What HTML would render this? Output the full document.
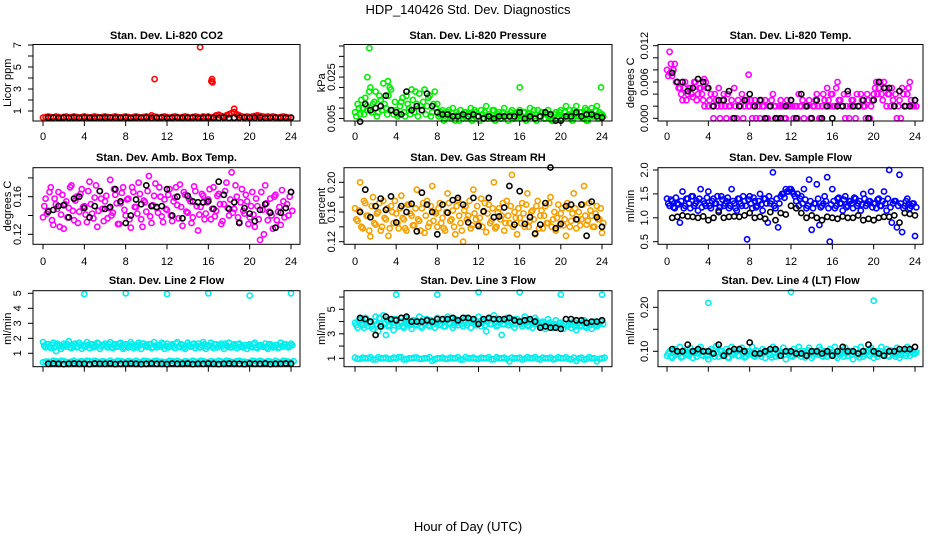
<!DOCTYPE html>
<html><head><meta charset="utf-8"><style>
html,body{margin:0;padding:0;background:#fff;}
svg{display:block;font-family:"Liberation Sans",Arial,sans-serif;}
</style></head><body>
<svg id="chart" width="936" height="540" viewBox="0 0 936 540" xmlns="http://www.w3.org/2000/svg">
<rect x="0" y="0" width="936" height="540" fill="#fff"/>
<text x="468" y="14" text-anchor="middle" font-size="13">HDP_140426  Std. Dev. Diagnostics</text>
<text x="468" y="531" text-anchor="middle" font-size="13">Hour of Day (UTC)</text>
</svg>
<script>
// ---------- data ----------
const xTicks = [0,4,8,12,16,20,24];
// CO2
const co2Color = [0.4,0.45,0.5,0.45,0.4,0.5,0.45,0.4,0.45,0.5,0.4,0.45,0.5,0.45,0.4,0.45,0.5,0.45,0.4,0.45,
0.5,0.45,0.4,0.45,0.5,0.45,0.4,0.45,0.5,0.45,0.4,0.45,0.5,0.45,0.4,0.45,0.5,0.45,0.4,0.45,
0.5,0.45,0.6,0.5,0.45,0.4,0.45,0.5,0.45,0.4,0.45,0.5,0.45,0.4,0.45,0.5,0.45,0.4,0.45,0.5,
0.45,0.4,0.5,0.45,0.5,0.4,0.45,0.6,0.65,0.55,0.5,0.6,0.7,0.8,0.9,0.7,0.6,0.5,0.45,0.5,
0.45,0.5,0.55,0.6,0.55,0.5,0.45,0.5,0.45,0.5,0.45,0.4,0.45,0.5,0.45,0.4,0.4];
const co2Black = [0.38,0.4,0.36,0.4,0.38,0.4,0.37,0.4,0.38,0.36,0.4,0.38,0.4,0.37,0.38,0.4,0.36,0.4,0.38,0.4,0.37,0.38,0.4,0.36,0.38,0.4,0.37,0.38,0.4,0.36,0.38,0.4,0.37,0.38,0.4,0.36,0.38,0.4,0.4,0.37,0.38,0.4,0.36,0.38,0.4,0.37,0.38,0.4];
const co2OutT = [10.8,15.2,16.3,16.35,16.4,18.5];
const co2OutV = [3.9,6.8,3.7,3.9,3.6,1.2];
// Pressure
const presColor = [0.008,0.012,0.007,0.01,0.015,0.009,0.02,0.012,0.018,0.008,0.014,0.022,0.01,0.016,0.019,0.007,
0.009,0.007,0.013,0.008,0.016,0.01,0.019,0.008,0.012,0.017,0.009,0.019,0.011,0.016,0.008,0.018,
0.012,0.007,0.009,0.005,0.008,0.006,0.01,0.004,0.007,0.009,0.005,0.008,0.006,0.01,0.005,0.008,
0.006,0.009,0.005,0.011,0.007,0.005,0.009,0.006,0.008,0.005,0.01,0.007,0.006,0.009,0.005,0.008,
0.009,0.006,0.008,0.005,0.01,0.007,0.005,0.009,0.006,0.008,0.005,0.009,0.006,0.004,0.008,0.006,
0.009,0.006,0.011,0.007,0.005,0.009,0.011,0.006,0.008,0.005,0.009,0.007,0.01,0.006,0.011,0.008,0.007];
const presColor2 = [0.006,0.01,0.014,0.007,0.011,0.018,0.008,0.013,0.006,0.016,0.009,0.012,0.007,0.02,0.009,0.013,
0.006,0.011,0.015,0.006,0.012,0.007,0.014,0.018,0.006,0.011,0.013,0.007,0.015,0.006,0.012,0.01,
0.006,0.008,0.004,0.007,0.009,0.005,0.006,0.008,0.004,0.006,0.008,0.005,0.007,0.004,0.009,0.006,
0.004,0.007,0.008,0.005,0.006,0.009,0.004,0.007,0.005,0.008,0.006,0.004,0.008,0.005,0.007,0.006,
0.005,0.008,0.004,0.007,0.006,0.009,0.004,0.006,0.008,0.005,0.007,0.006,0.004,0.007,0.005,0.008,
0.005,0.008,0.006,0.009,0.004,0.007,0.006,0.008,0.005,0.01,0.004,0.008,0.006,0.009,0.005,0.007,0.006];
const presBlack = [0.0035,0.012,0.009,0.01,0.011,0.016,0.009,0.008,0.007,0.018,0.009,0.011,0.009,0.017,0.011,0.008,0.007,0.007,0.006,0.006,0.007,0.006,0.007,0.006,0.005,0.006,0.005,0.006,0.006,0.006,0.006,0.008,0.005,0.006,0.005,0.006,0.008,0.007,0.004,0.004,0.006,0.006,0.008,0.006,0.007,0.007,0.006,0.0055];
const presOutT = [1.4,16,23.9,22.5,1.2,3.2];
const presOutV = [0.039,0.020,0.020,0.004,0.025,0.023];
// Li-820 temp
const tempColor = [0.008,0.011,0.007,0.009,0.006,0.005,0.003,0.006,0.004,0.005,0.0035,0.006,0.004,0.005,0.003,0.006,
0.002,0.004,0.0,0.003,0.005,0.002,0.004,0.0,0.002,0.003,0.005,0.0,0.002,0.004,0.002,0.003,
0.002,0.0,0.003,0.002,0.0,0.002,0.003,0.0,0.002,0.004,0.002,0.0,0.003,0.002,0.0,0.002,
0.003,0.0,0.002,0.004,0.002,0.0,0.002,0.003,0.0,0.002,0.004,0.0,0.002,0.003,0.005,0.002,
0.004,0.002,0.006,0.003,0.002,0.0,0.004,0.002,0.003,0.0,0.002,0.004,0.002,0.0,0.003,0.002,
0.004,0.006,0.005,0.004,0.006,0.002,0.004,0.005,0.002,0.0,0.003,0.005,0.002,0.004,0.006,0.002,0.003];
const tempColor2 = [0.007,0.009,0.008,0.006,0.005,0.004,0.005,0.003,0.005,0.004,0.006,0.003,0.005,0.004,0.002,0.005,
0.003,0.002,0.004,0.002,0.0,0.003,0.002,0.004,0.002,0.0,0.002,0.003,0.002,0.0,0.003,0.002,
0.003,0.002,0.0,0.002,0.003,0.002,0.0,0.002,0.003,0.002,0.0,0.002,0.002,0.0,0.003,0.002,
0.002,0.002,0.0,0.002,0.003,0.002,0.002,0.0,0.002,0.003,0.002,0.0,0.004,0.002,0.003,0.004,
0.002,0.005,0.003,0.002,0.004,0.002,0.0,0.003,0.002,0.004,0.002,0.003,0.002,0.004,0.0,0.003,
0.005,0.004,0.006,0.003,0.005,0.004,0.002,0.003,0.004,0.002,0.0,0.004,0.002,0.005,0.003,0.002,0.002];
const tempBlack = [0.0075,0.006,0.006,0.0045,0.005,0.0065,0.006,0.005,0.002,0.003,0.003,0.0045,0.0,0.002,0.003,0.004,0.002,0.003,0.0,0.002,0.0,0.0,0.002,0.003,0.0,0.004,0.002,0.0,0.003,0.0,0.002,0.0,0.002,0.002,0.0045,0.002,0.002,0.003,0.0,0.003,0.006,0.005,0.005,0.002,0.0045,0.002,0.002,0.003];
const tempOutT = [0.3,0.6,7.9,3.6];
const tempOutV = [0.0075,0.008,0.0072,0.0065];
// Amb box temp
const ambColor = [0.138,0.158,0.145,0.17,0.13,0.152,0.165,0.141,0.126,0.155,0.148,0.172,0.135,0.16,0.144,0.168,
0.15,0.133,0.176,0.142,0.159,0.128,0.166,0.147,0.155,0.137,0.178,0.143,0.162,0.131,0.153,0.17,
0.14,0.158,0.127,0.165,0.149,0.175,0.136,0.156,0.144,0.182,0.132,0.161,0.148,0.17,0.139,0.157,
0.146,0.168,0.134,0.159,0.151,0.173,0.129,0.162,0.143,0.155,0.138,0.166,0.124,0.149,0.161,0.142,
0.157,0.136,0.17,0.145,0.163,0.131,0.152,0.175,0.14,0.186,0.147,0.16,0.133,0.168,0.142,0.155,
0.138,0.165,0.128,0.15,0.114,0.146,0.172,0.135,0.158,0.126,0.162,0.144,0.13,0.155,0.148,0.14,0.165];
const ambColor2 = [0.15,0.142,0.165,0.135,0.158,0.147,0.128,0.162,0.152,0.138,0.17,0.145,0.156,0.132,0.163,0.149,
0.141,0.166,0.152,0.137,0.172,0.145,0.158,0.134,0.161,0.148,0.14,0.168,0.153,0.131,0.164,0.146,
0.157,0.136,0.17,0.149,0.142,0.163,0.128,0.154,0.166,0.139,0.151,0.174,0.143,0.16,0.133,0.147,
0.162,0.14,0.155,0.17,0.137,0.149,0.165,0.144,0.158,0.132,0.171,0.15,0.141,0.163,0.136,0.154,
0.168,0.147,0.139,0.161,0.152,0.134,0.166,0.148,0.157,0.143,0.172,0.138,0.154,0.145,0.162,0.131,
0.15,0.141,0.158,0.136,0.165,0.12,0.153,0.144,0.14,0.16,0.135,0.149,0.167,0.138,0.152,0.16,0.145];
const ambBlack = [0.144,0.146,0.15,0.151,0.138,0.158,0.16,0.148,0.138,0.15,0.166,0.147,0.149,0.168,0.155,0.132,0.14,0.157,0.152,0.172,0.15,0.149,0.15,0.168,0.14,0.16,0.137,0.161,0.155,0.154,0.154,0.155,0.147,0.176,0.162,0.147,0.154,0.132,0.148,0.142,0.134,0.146,0.152,0.143,0.127,0.143,0.148,0.165];
// Gas stream RH
const rhColor = [0.165,0.148,0.2,0.138,0.172,0.155,0.127,0.18,0.143,0.16,0.135,0.175,0.15,0.128,0.168,0.145,
0.158,0.138,0.182,0.15,0.135,0.17,0.155,0.142,0.19,0.148,0.165,0.132,0.175,0.145,0.195,0.16,
0.14,0.172,0.152,0.135,0.185,0.148,0.162,0.13,0.176,0.145,0.12,0.168,0.155,0.138,0.19,0.15,
0.143,0.178,0.16,0.133,0.17,0.148,0.2,0.14,0.165,0.155,0.135,0.175,0.145,0.21,0.16,0.13,
0.152,0.172,0.14,0.185,0.148,0.162,0.13,0.175,0.155,0.138,0.168,0.145,0.18,0.15,0.135,0.17,
0.158,0.142,0.128,0.165,0.148,0.185,0.138,0.16,0.15,0.195,0.143,0.172,0.155,0.14,0.168,0.15,0.132];
const rhColor2 = [0.15,0.162,0.14,0.175,0.155,0.135,0.168,0.145,0.158,0.172,0.14,0.152,0.165,0.138,0.16,0.175,
0.145,0.165,0.152,0.138,0.17,0.158,0.142,0.165,0.15,0.135,0.172,0.155,0.14,0.168,0.148,0.158,
0.165,0.145,0.138,0.16,0.172,0.15,0.14,0.168,0.155,0.135,0.162,0.15,0.175,0.142,0.158,0.168,
0.152,0.14,0.172,0.158,0.145,0.165,0.138,0.16,0.15,0.172,0.145,0.155,0.168,0.14,0.152,0.165,
0.145,0.158,0.17,0.14,0.16,0.15,0.168,0.138,0.162,0.155,0.145,0.172,0.14,0.16,0.152,0.142,
0.165,0.15,0.172,0.14,0.158,0.165,0.15,0.142,0.17,0.155,0.148,0.162,0.14,0.158,0.15,0.165,0.145];
const rhBlack = [0.16,0.19,0.153,0.168,0.178,0.163,0.181,0.146,0.168,0.16,0.171,0.134,0.186,0.17,0.16,0.13,0.17,0.159,0.176,0.179,0.17,0.146,0.179,0.141,0.161,0.179,0.153,0.154,0.166,0.195,0.143,0.188,0.144,0.153,0.131,0.143,0.172,0.22,0.138,0.144,0.168,0.17,0.15,0.17,0.128,0.174,0.153,0.14];
// Sample flow
const sfColor = [1.4,1.25,1.35,1.2,1.3,0.9,1.55,1.25,1.4,1.2,1.45,1.3,1.15,1.6,1.35,1.25,
1.55,1.2,1.4,1.3,1.15,1.45,1.25,1.35,1.2,1.6,1.3,1.15,1.4,1.25,1.35,0.55,
1.45,1.2,1.35,1.25,1.5,1.15,1.4,0.9,1.3,1.95,1.2,0.8,1.45,1.5,1.6,1.55,
1.6,1.5,1.35,1.25,1.45,1.6,1.2,1.8,0.75,1.3,1.7,0.85,1.25,1.45,1.85,0.5,
1.6,1.2,1.4,1.3,1.15,1.45,1.25,1.35,1.2,1.4,1.3,1.15,1.5,1.25,1.35,1.55,
1.3,1.2,1.4,1.25,1.55,1.15,2.0,0.9,1.35,0.8,1.9,0.7,1.25,1.4,1.2,1.3,0.62];
const sfColor2 = [1.3,1.38,1.22,1.42,1.28,1.35,1.2,1.4,1.3,1.45,1.25,1.35,1.4,1.22,1.3,1.42,
1.25,1.35,1.3,1.45,1.22,1.38,1.3,1.42,1.25,1.35,1.2,1.4,1.3,1.45,1.25,1.38,
1.3,1.42,1.22,1.35,1.28,1.4,1.3,1.45,1.35,1.25,1.4,1.3,1.5,1.42,1.55,1.6,
1.55,1.45,1.5,1.4,1.3,1.38,1.25,1.35,1.2,1.3,1.4,1.22,1.3,1.35,1.2,1.28,
1.35,1.25,1.42,1.3,1.38,1.22,1.35,1.3,1.42,1.25,1.35,1.28,1.4,1.3,1.35,1.22,
1.3,1.38,1.25,1.35,1.3,1.4,1.22,1.3,1.35,1.25,1.3,1.2,1.35,1.28,1.25,1.3,1.22];
const sfBlack = [1.0,1.02,1.05,1.03,1.02,1.0,1.03,0.95,1.0,1.12,1.0,1.02,1.03,1.02,1.05,1.1,1.0,1.02,0.98,1.12,0.95,1.1,1.07,1.25,1.2,1.1,1.0,1.05,1.0,0.95,1.02,1.0,0.98,1.03,1.0,1.0,1.05,0.95,0.98,0.95,1.0,1.02,1.02,1.05,0.9,1.1,1.08,1.05];
// Line 2 flow
const l2Color = [1.75,1.4,1.6,1.35,1.7,1.15,1.55,1.3,1.65,1.45,1.8,1.35,1.6,1.4,1.7,1.3,
1.55,1.75,1.35,1.6,1.45,1.7,1.3,1.55,1.65,1.4,1.75,1.35,1.6,1.45,1.7,1.3,
1.6,1.4,1.75,1.35,1.55,1.7,1.3,1.65,1.45,1.6,1.35,1.75,1.4,1.55,1.7,1.3,
1.65,1.45,1.6,1.35,1.75,1.4,1.55,1.3,1.7,1.45,1.6,1.35,1.65,1.4,1.75,1.3,
1.55,1.7,1.35,1.6,1.45,1.65,1.3,1.55,1.7,1.4,1.6,1.35,1.65,1.45,1.55,1.3,
1.6,1.4,1.7,1.35,1.55,1.45,1.65,1.3,1.6,1.4,1.55,1.35,1.7,1.45,1.6,1.4,1.65];
const l2Color2 = [1.5,1.6,1.45,1.55,1.4,1.65,1.5,1.45,1.55,1.6,1.4,1.5,1.65,1.45,1.55,1.5,
1.45,1.55,1.6,1.4,1.5,1.65,1.45,1.55,1.5,1.6,1.4,1.55,1.45,1.65,1.5,1.4,
1.55,1.5,1.6,1.45,1.4,1.55,1.65,1.5,1.45,1.6,1.4,1.5,1.55,1.45,1.6,1.5,
1.4,1.55,1.5,1.65,1.45,1.6,1.4,1.5,1.55,1.45,1.65,1.5,1.4,1.55,1.6,1.45,
1.5,1.45,1.6,1.4,1.55,1.5,1.65,1.45,1.4,1.55,1.5,1.6,1.45,1.4,1.55,1.5,
1.45,1.6,1.4,1.5,1.55,1.45,1.4,1.6,1.5,1.45,1.55,1.4,1.5,1.6,1.45,1.5,1.55];
const l2Low = [0.4,0.45,0.5,0.42,0.48,0.4,0.5,0.45,0.42,0.48,0.5,0.4,0.45,0.5,0.42,0.48,0.4,0.45,0.5,0.42,0.48,0.4,0.5,0.45,0.42,0.48,0.5,0.4,0.45,0.5,0.42,0.48,0.4,0.45,0.5,0.42,0.48,0.4,0.5,0.45,0.42,0.48,0.5,0.4,0.45,0.5,0.42,0.48,0.4];
const l2Low2 = [0.45,0.4,0.48,0.5,0.42,0.45,0.4,0.48,0.5,0.42,0.45,0.48,0.4,0.42,0.5,0.45,0.48,0.4,0.42,0.5,0.45,0.48,0.42,0.4,0.5,0.45,0.42,0.48,0.4,0.45,0.5,0.42,0.48,0.4,0.45,0.5,0.42,0.48,0.45,0.4,0.5,0.42,0.45,0.48,0.4,0.42,0.5,0.45,0.48];
const l2Black = [0.3,0.32,0.3,0.28,0.3,0.32,0.3,0.3,0.28,0.32,0.3,0.3,0.32,0.28,0.3,0.3,0.32,0.3,0.28,0.3,0.32,0.3,0.3,0.28,0.32,0.3,0.3,0.32,0.28,0.3,0.3,0.32,0.3,0.28,0.3,0.32,0.3,0.3,0.28,0.32,0.3,0.3,0.32,0.28,0.3,0.3,0.32,0.3];
const l2OutT = [4,8,12,16,20,24];
const l2OutV = [4.95,5.0,4.95,5.0,4.85,5.0];
// Line 3 flow
const l3Color = [3.9,3.5,4.2,3.7,4.3,3.6,4.0,3.4,4.4,3.2,3.8,4.5,2.9,3.6,4.1,3.3,
4.2,3.6,4.0,3.5,4.3,3.8,3.4,4.1,3.7,4.4,3.5,3.9,4.2,3.6,4.0,3.5,
4.3,3.7,4.1,3.6,4.4,3.8,3.5,4.2,3.7,4.0,3.6,4.3,3.9,3.5,4.1,3.7,
4.4,3.6,4.0,3.2,4.2,3.8,4.5,3.6,4.1,2.9,3.8,4.3,3.7,4.0,3.5,4.2,
3.9,3.6,4.4,3.7,4.1,3.5,4.3,3.8,3.6,4.0,3.4,4.2,3.7,3.5,4.1,3.6,
3.9,3.4,4.2,3.7,3.5,4.0,3.3,3.9,3.6,4.1,3.5,3.8,3.4,4.0,3.6,3.8,4.1];
const l3Color2 = [3.7,4.1,3.8,3.5,4.2,3.9,3.6,4.0,3.8,4.3,3.6,3.9,4.1,3.7,3.9,4.2,
3.8,4.0,3.6,4.2,3.9,3.7,4.1,3.8,4.0,3.6,4.2,3.8,3.7,4.1,3.9,3.8,
4.0,3.8,3.6,4.1,3.9,4.2,3.7,3.9,4.1,3.8,4.0,3.7,4.2,3.9,3.8,4.0,
3.9,4.1,3.7,4.0,3.8,4.2,3.9,3.7,4.0,3.8,4.1,3.7,3.9,4.2,3.8,4.0,
3.8,4.1,3.9,3.6,4.0,3.8,4.1,3.7,3.9,3.8,3.6,3.9,3.7,3.8,3.6,3.9,
3.7,3.8,3.6,3.9,3.8,3.6,3.8,3.7,3.9,3.6,3.8,3.7,3.9,3.7,3.8,4.0,3.8];
const l3Low = [1.05,0.95,1.0,1.1,0.9,1.0,1.05,0.95,1.0,1.08,0.92,1.0,1.05,0.95,1.0,0.8,1.0,1.05,0.95,1.0,1.1,0.9,1.0,1.05,0.95,1.0,1.08,0.92,1.0,1.05,0.75,1.0,1.05,0.95,1.0,1.1,0.9,1.0,1.05,0.95,1.0,1.08,0.92,0.8,1.05,0.95,1.0,0.75,1.0];
const l3Low2 = [0.95,1.05,1.0,0.92,1.08,1.0,0.95,1.05,1.1,0.9,1.0,1.05,0.95,1.0,1.08,0.92,1.0,0.95,1.05,1.0,0.9,1.1,1.0,0.95,1.05,1.0,0.92,1.08,1.0,0.95,1.05,1.0,0.9,1.1,1.0,0.95,1.05,1.0,0.92,1.08,1.0,0.95,1.05,1.0,0.9,1.1,1.0,0.95,1.05];
const l3Black = [4.3,4.2,4.0,2.9,3.6,4.4,4.2,4.1,4.3,4.4,4.0,4.0,4.0,4.1,4.0,4.2,4.2,4.2,4.3,4.1,4.3,4.3,4.2,3.8,4.2,4.3,4.2,4.2,4.2,4.3,4.1,4.0,4.1,4.2,4.0,3.5,3.6,3.5,3.5,3.4,4.2,4.2,4.1,4.1,3.9,4.0,4.0,4.1];
const l3OutT = [4,8,12,16,20,24];
const l3OutV = [6.2,6.2,6.4,6.4,6.2,6.2];
// Line 4 flow
const l4Color = [0.09,0.1,0.085,0.105,0.095,0.11,0.088,0.1,0.092,0.108,0.085,0.1,0.095,0.11,0.09,0.1,
0.082,0.105,0.095,0.112,0.088,0.1,0.092,0.105,0.085,0.11,0.095,0.1,0.09,0.108,0.086,0.1,
0.093,0.11,0.088,0.1,0.095,0.105,0.085,0.1,0.092,0.11,0.088,0.1,0.095,0.108,0.082,0.1,
0.09,0.105,0.095,0.11,0.088,0.1,0.092,0.108,0.085,0.1,0.095,0.11,0.09,0.1,0.088,0.105,
0.093,0.11,0.085,0.1,0.095,0.108,0.09,0.1,0.082,0.105,0.095,0.11,0.088,0.1,0.092,0.108,
0.085,0.1,0.095,0.11,0.09,0.105,0.088,0.1,0.093,0.108,0.085,0.1,0.095,0.11,0.09,0.1,0.095];
const l4Color2 = [0.095,0.088,0.1,0.092,0.098,0.086,0.102,0.094,0.09,0.1,0.096,0.088,0.104,0.092,0.098,0.09,
0.1,0.094,0.088,0.098,0.102,0.09,0.096,0.086,0.1,0.092,0.098,0.09,0.104,0.094,0.088,0.1,
0.096,0.09,0.102,0.092,0.088,0.098,0.1,0.094,0.086,0.096,0.102,0.09,0.098,0.092,0.1,0.094,
0.088,0.098,0.092,0.1,0.096,0.086,0.102,0.094,0.09,0.098,0.092,0.104,0.088,0.096,0.1,0.092,
0.098,0.09,0.094,0.102,0.088,0.096,0.1,0.092,0.098,0.09,0.086,0.1,0.094,0.098,0.09,0.102,
0.094,0.088,0.1,0.092,0.098,0.09,0.102,0.094,0.088,0.098,0.092,0.1,0.09,0.096,0.102,0.094,0.098];
const l4Black = [0.105,0.1,0.1,0.115,0.1,0.105,0.1,0.1,0.095,0.115,0.09,0.1,0.105,0.105,0.1,0.12,0.095,0.095,0.1,0.105,0.105,0.09,0.1,0.1,0.095,0.095,0.09,0.1,0.1,0.095,0.1,0.09,0.1,0.11,0.1,0.1,0.095,0.1,0.115,0.1,0.095,0.09,0.1,0.1,0.105,0.105,0.105,0.11];
const l4OutT = [4,12,20];
const l4OutV = [0.21,0.235,0.215];

// ---------- layout ----------
const NS = 'http://www.w3.org/2000/svg';
const svg = document.getElementById('chart');
const cols = [{l:33,r:300,x0:43,x24:291,tl:16,yl:26},{l:344,r:612,x0:355,x24:602,tl:13,yl:23},{l:658,r:923,x0:667,x24:915,tl:14,yl:28}];
const rows = [{t:44.5,b:121,title:35,xl:140},{t:167.7,b:244.3,title:157,xl:265},{t:290.7,b:366.7,title:280,xl:385}];

function mk(tag, attrs, parent){
  const e = document.createElementNS(NS, tag);
  for (const k in attrs) e.setAttribute(k, attrs[k]);
  (parent||svg).appendChild(e);
  return e;
}
function panel(ri, ci, name, title, ylabel, v1, p1, v2, p2, yTicks, yLabels, yFmt, series){
  const c = cols[ci], r = rows[ri];
  const g = mk('g', {});
  
  
  const xs = t => c.x0 + t*(c.x24-c.x0)/24;
  const ys = v => p1 + (v-v1)*(p2-p1)/(v2-v1);
  const cx = (c.l+c.r)/2;
  const tt = mk('text', {x:cx, y:r.title+4, 'text-anchor':'middle', 'font-size':11, 'font-weight':'bold'}, g);
  tt.textContent = title;
  
  
  series.forEach(s => {
    const sg = mk('g', {fill:'none', stroke:s.color, 'stroke-width':1.6}, g);
    
    
    s.v.forEach((v,i) => {
      const t = s.t ? s.t[i] : s.start + i*s.step;
      const p = mk('circle', {cx:xs(t).toFixed(1), cy:ys(v).toFixed(1), r:2.6}, sg);
      
      
    });
  });
  const box = mk('rect', {x:c.l, y:r.t, width:c.r-c.l, height:r.b-r.t, fill:'none', stroke:'#000', 'stroke-width':1}, g);
  
  
  const xa = mk('g', {}, g);
  
  
  xTicks.forEach(t => {
    mk('line', {x1:xs(t), x2:xs(t), y1:r.b, y2:r.b+5, stroke:'#000'}, xa);
    if (ri < 2) { const lb = mk('text', {x:xs(t), y:r.xl, 'text-anchor':'middle', 'font-size':11}, xa); lb.textContent = t; }
  });
  const ya = mk('g', {}, g);
  
  
  yTicks.forEach(v => mk('line', {x1:c.l-5, x2:c.l, y1:ys(v), y2:ys(v), stroke:'#000'}, ya));
  yLabels.forEach(v => {
    const x = c.l - c.tl, y = ys(v);
    const lb = mk('text', {x:x, y:y, 'text-anchor':'middle', 'font-size':11, transform:`rotate(-90 ${x} ${y})`, dy:'0.35em'}, ya);
    lb.textContent = v.toFixed(yFmt);
  });
  const yc = (r.t+r.b)/2, yx = c.l - c.yl;
  const yt = mk('text', {x:yx, y:yc, 'text-anchor':'middle', 'font-size':11, transform:`rotate(-90 ${yx} ${yc})`, dy:'0.35em'}, g);
  yt.textContent = ylabel;
  
  
}
const C = (v,color,name)=>({v:v,color:color,name:name,start:0,step:0.25});
const C2 = (v,color,name)=>({v:v,color:color,name:name,start:0.125,step:0.25});
const B = (v,name)=>({v:v,color:'#000',name:name||'reference-series',start:0.5,step:0.5});
const H = (v,color,name)=>({v:v,color:color,name:name,start:0,step:0.5});
const H2 = (v,color,name)=>({v:v,color:color,name:name,start:0.25,step:0.5});
const O = (t,v,color)=>({t:t,v:v,color:color,name:'outliers'});

panel(0,0,'co2','Stan. Dev. Li-820 CO2','Licor ppm',1,111,7,45,[1,2,3,4,5,6,7],[1,3,5,7],0,
  [C(co2Color,'#ff0000','series'),O(co2OutT,co2OutV,'#ff0000'),B(co2Black)]);
panel(0,1,'pressure','Stan. Dev. Li-820 Pressure','kPa',0.005,118.5,0.040,46,[0.005,0.01,0.015,0.02,0.025,0.03,0.035,0.04],[0.005,0.025],3,
  [C(presColor,'#00ee00','series'),C2(presColor2,'#00ee00','series-b'),O(presOutT,presOutV,'#00ee00'),B(presBlack)]);
panel(0,2,'licor-temp','Stan. Dev. Li-820 Temp.','degrees C',0,118.3,0.012,45.7,[0,0.002,0.004,0.006,0.008,0.01,0.012],[0,0.006,0.012],3,
  [C(tempColor,'#ff00ff','series'),C2(tempColor2,'#ff00ff','series-b'),O(tempOutT,tempOutV,'#ff00ff'),B(tempBlack)]);
panel(1,0,'amb-box-temp','Stan. Dev. Amb. Box Temp.','degrees C',0.12,234.3,0.16,196.7,[0.12,0.14,0.16,0.18],[0.12,0.16],2,
  [C(ambColor,'#ff00ff','series'),C2(ambColor2,'#ff00ff','series-b'),B(ambBlack)]);
panel(1,1,'gas-rh','Stan. Dev. Gas Stream RH','percent',0.12,241.7,0.20,182.3,[0.12,0.14,0.16,0.18,0.2],[0.12,0.16,0.2],2,
  [C(rhColor,'#f5a000','series'),C2(rhColor2,'#f5a000','series-b'),B(rhBlack)]);
panel(1,2,'sample-flow','Stan. Dev. Sample Flow','ml/min',0.5,241.7,2.0,170,[0.5,1,1.5,2],[0.5,1,1.5,2],1,
  [C(sfColor,'#0000ff','series'),C2(sfColor2,'#0000ff','series-b'),B(sfBlack)]);
panel(2,0,'line2-flow','Stan. Dev. Line 2 Flow','ml/min',1,353.3,5,293.3,[1,2,3,4,5],[1,2,3,4,5],0,
  [C(l2Color,'#00eeee','series'),C2(l2Color2,'#00eeee','series-b'),H(l2Low,'#00eeee','low-series'),H2(l2Low2,'#00eeee','low-series-b'),O(l2OutT,l2OutV,'#00eeee'),B(l2Black)]);
panel(2,1,'line3-flow','Stan. Dev. Line 3 Flow','ml/min',1,358.3,5,309.3,[1,2,3,4,5,6],[1,3,5],0,
  [C(l3Color,'#00eeee','series'),C2(l3Color2,'#00eeee','series-b'),H(l3Low,'#00eeee','low-series'),H2(l3Low2,'#00eeee','low-series-b'),O(l3OutT,l3OutV,'#00eeee'),B(l3Black)]);
panel(2,2,'line4-flow','Stan. Dev. Line 4 (LT) Flow','ml/min',0.10,351.3,0.20,307.3,[0.1,0.15,0.2],[0.1,0.2],2,
  [C(l4Color,'#00eeee','series'),C2(l4Color2,'#00eeee','series-b'),O(l4OutT,l4OutV,'#00eeee'),B(l4Black)]);
</script>
</body></html>
